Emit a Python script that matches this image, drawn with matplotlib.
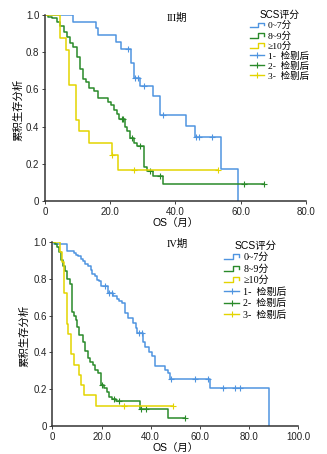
import numpy as np
import matplotlib
matplotlib.use('Agg')
import matplotlib.pyplot as plt
from matplotlib.lines import Line2D
from matplotlib.legend_handler import HandlerBase

plt.rcParams['font.family'] = ['Liberation Sans', 'Noto Sans CJK SC', 'DejaVu Sans']

# ---- stage III: event times / survival and censor times ----
blue3_t = [0, 8.7, 15.5, 16.3, 21.9, 23.4, 26.5, 27.4, 29.2, 33.2, 35.2, 43.2, 46.1, 53.9, 59.1]
blue3_s = [1.0, 0.962, 0.927, 0.891, 0.852, 0.814, 0.739, 0.659, 0.618, 0.564, 0.462, 0.405, 0.346, 0.173, 0.0]
blue3_c = [25.6, 27.6, 28.6, 30.3, 36.1, 46.4, 47.3, 51.1]

green3_t = [0, 1.0, 2.2, 3.8, 4.6, 5.9, 6.6, 7.7, 8.7, 9.9, 10.7, 11.7, 12.6, 13.6, 15.1, 16.4,
            19.4, 20.2, 21.3, 22.0, 22.6, 24.4, 25.1, 26.1, 27.3, 28.1, 30.3, 31.2, 33.0, 36.3]
green3_s = [1.0, 0.99, 0.98, 0.96, 0.94, 0.91, 0.88, 0.846, 0.827, 0.775, 0.707, 0.657, 0.639, 0.605,
            0.593, 0.552, 0.534, 0.514, 0.489, 0.47, 0.44, 0.40, 0.375, 0.34, 0.315, 0.296, 0.182,
            0.161, 0.134, 0.091]
green3_c = [23.5, 24.0, 26.6, 29.1, 32.2, 35.4, 61.1, 67.0]

yellow3_t = [0, 4.7, 6.5, 7.4, 9.6, 10.4, 13.6, 20.4, 22.4]
yellow3_s = [1.0, 0.875, 0.8125, 0.625, 0.4375, 0.375, 0.3125, 0.25, 0.1667]
yellow3_c = [20.6, 27.4, 53.1]

# ---- stage IV ----
blue4_t = [0, 0.5, 6.0, 8.7, 9.6, 10.4, 11.8, 12.3, 13.4, 14.5, 15.9, 16.1, 17.2, 18.2, 18.8, 19.9,
           22.6, 24.8, 26.3, 27.1, 28.2, 29.6, 30.9, 32.9, 34.0, 34.6, 37.0, 37.7, 39.4, 40.4, 41.7,
           45.8, 47.2, 47.8, 64.2, 88.2]
blue4_s = [1.0, 0.985, 0.948, 0.939, 0.930, 0.921, 0.908, 0.894, 0.879, 0.866, 0.849, 0.825, 0.812,
           0.794, 0.785, 0.758, 0.72, 0.706, 0.69, 0.68, 0.666, 0.616, 0.585, 0.558, 0.531, 0.504,
           0.459, 0.432, 0.404, 0.381, 0.327, 0.305, 0.287, 0.255, 0.21, 0.0]
blue4_c = [21.6, 23.2, 24.1, 35.4, 36.3, 48.1, 58.0, 63.4, 69.3, 74.3, 76.3]

green4_t = [0, 1.1, 2.0, 2.8, 3.5, 4.5, 5.3, 6.0, 7.2, 8.1, 8.7, 9.6, 10.0, 10.7, 12.3, 13.2, 14.5,
            15.5, 16.4, 17.5, 18.6, 19.9, 20.9, 22.2, 23.2, 24.3, 25.9, 35.8, 47.0]
green4_s = [1.0, 0.99, 0.97, 0.945, 0.90, 0.87, 0.84, 0.80, 0.77, 0.62, 0.60, 0.575, 0.54, 0.495,
            0.458, 0.41, 0.368, 0.35, 0.332, 0.305, 0.287, 0.224, 0.206, 0.188, 0.16, 0.148, 0.137,
            0.092, 0.047]
green4_c = [20.2, 24.9, 27.0, 36.2, 38.2, 53.9]

yellow4_t = [0, 3.0, 4.1, 4.9, 5.8, 6.5, 7.6, 8.8, 10.7, 11.8, 12.8, 17.8]
yellow4_s = [1.0, 0.944, 0.889, 0.722, 0.556, 0.50, 0.389, 0.333, 0.278, 0.222, 0.167, 0.111]
yellow4_c = [29.0, 49.2]

group_labels = ['0~7分', '8~9分', '≥10分']
censor_labels = ['1-  检剔后', '2-  检剔后', '3-  检剔后']
colors = ['#4f94e0', '#2a8a2a', '#e3d400']
serif = ['Liberation Serif', 'Noto Sans CJK SC']


class StepHandler(HandlerBase):
    def create_artists(self, legend, orig_handle, xdescent, ydescent, width, height, fontsize, trans):
        x0 = -xdescent
        y0 = -ydescent
        xs = [x0, x0 + width * 0.55, x0 + width * 0.55, x0 + width, x0 + width]
        ys = [y0 + height * 0.15, y0 + height * 0.15, y0 + height * 0.85, y0 + height * 0.85, y0 + height * 0.45]
        ln = Line2D(xs, ys, color=orig_handle.get_color(), lw=1.0)
        ln.set_transform(trans)
        return [ln]


def km(ax, t, s, c, color):
    t = list(t)
    s = list(s)
    if max(c) > t[-1]:
        t.append(max(c))
        s.append(s[-1])
    ax.step(t, s, where='post', color=color, lw=1.1)
    idx = np.searchsorted(t, c, side='right') - 1
    ax.plot(c, np.array(s)[idx], ls='none', marker='+', ms=4, mew=0.8, color=color)


def style(ax, xmax, xticks):
    ax.set_xlim(0, xmax)
    ax.set_ylim(0, 1.0)
    ax.set_xticks(xticks)
    ax.set_xticklabels(['0'] + ['%.1f' % v for v in xticks[1:]])
    ax.set_yticks([0, 0.2, 0.4, 0.6, 0.8, 1.0])
    ax.set_yticklabels(['0', '0.2', '0.4', '0.6', '0.8', '1.0'])
    for sp in ['top', 'right']:
        ax.spines[sp].set_visible(False)
    for sp in ['left', 'bottom']:
        ax.spines[sp].set_linewidth(1.1)
        ax.spines[sp].set_color('#333333')
    ax.tick_params(labelsize=7, length=2, width=0.6, pad=2, colors='#222222')
    ax.set_xlabel('OS（月）', fontsize=7.5, labelpad=1)
    ax.set_ylabel('累积生存分析', fontsize=7.5)


fig = plt.figure(figsize=(3.27, 4.54), dpi=100)
ax1 = fig.add_axes([0.1376, 0.5566, 0.798, 0.411])
ax2 = fig.add_axes([0.160, 0.0610, 0.752, 0.4066])

km(ax1, blue3_t, blue3_s, blue3_c, colors[0])
km(ax1, green3_t, green3_s, green3_c, colors[1])
km(ax1, yellow3_t, yellow3_s, yellow3_c, colors[2])
style(ax1, 80, [0, 20, 40, 60, 80])
ax1.yaxis.set_label_coords(-0.085, 0.49)
ax1.text(0.505, 0.985, 'III期', transform=ax1.transAxes, ha='center', va='center',
         fontsize=7.5, family=serif)

km(ax2, blue4_t, blue4_s, blue4_c, colors[0])
km(ax2, green4_t, green4_s, green4_c, colors[1])
km(ax2, yellow4_t, yellow4_s, yellow4_c, colors[2])
style(ax2, 100, [0, 20, 40, 60, 80, 100])
ax2.yaxis.set_label_coords(-0.092, 0.49)
ax2.text(0.507, 0.99, 'IV期', transform=ax2.transAxes, ha='center', va='center',
         fontsize=7.5, family=serif)

step_handles = [Line2D([], [], color=c) for c in colors]
cens_handles = [Line2D([], [], color=c, lw=1.0, marker='+', ms=5, mew=0.8) for c in colors]
handler_map = {h: StepHandler() for h in step_handles}

for ax, anchor, fs, sp in [(ax1, (0.785, 1.025), 6.8, 0.1), (ax2, (0.70, 1.005), 7.2, 0.2)]:
    leg = ax.legend(step_handles + cens_handles, group_labels + censor_labels,
                    handler_map=handler_map, title='SCS评分', loc='upper left',
                    bbox_to_anchor=anchor, frameon=False,
                    handlelength=1.5, handletextpad=0.4, labelspacing=sp, borderpad=0,
                    borderaxespad=0, prop={'family': serif, 'size': fs})
    leg.get_title().set_fontfamily(['Liberation Sans', 'Noto Sans CJK SC'])
    leg.get_title().set_fontsize(fs + 0.3)

plt.savefig('out.png', dpi=100)
